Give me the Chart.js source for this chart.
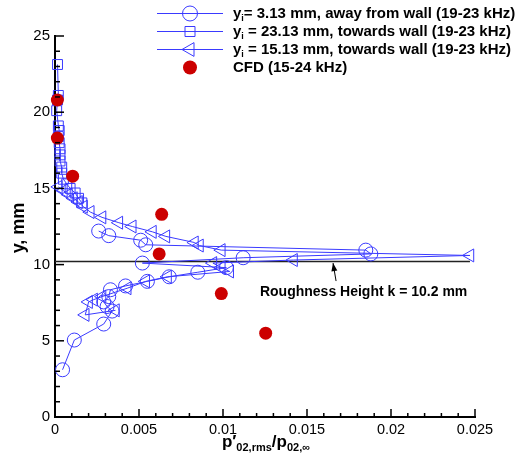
<!DOCTYPE html>
<html><head><meta charset="utf-8">
<script src="https://cdn.jsdelivr.net/npm/chart.js@4.4.1/dist/chart.umd.min.js"></script>
<style>html,body{margin:0;padding:0;background:#fff}#wrap{width:517px;height:462px;position:relative}</style>
</head><body><div id="wrap"><canvas id="c"></canvas></div>
<script>
// ---- data ----
const circlesX = [0.00045,0.00115,0.0029,0.0034,0.0031,0.0029,0.0032,0.0033,0.0042,0.0055,0.0068,0.0085,0.0102,0.0052,0.0112,0.0188,0.0185,0.0054,0.0051,0.0032,0.0026];
const circlesY = [3.1,5.05,6.1,6.95,7.25,7.55,7.9,8.35,8.6,8.9,9.2,9.5,9.8,10.1,10.45,10.7,10.95,11.3,11.6,11.9,12.2];
const squaresX = [0.00015,0.0002,0.00015,0.0001,0.0002,0.00025,0.0002,0.00025,0.0003,0.0003,0.0003,0.0004,0.0004,0.0005,0.0007,0.0009,0.0012,0.0014,0.0016];
const squaresY = [23.13,21.1,20.8,20.1,19.1,18.8,18.4,18.0,17.6,17.2,16.8,16.4,16.0,15.6,15.3,15.0,14.7,14.35,14.05];
const trianglesX = [0.0002,0.0005,0.0008,0.0011,0.0014,0.0017,0.0021,0.0028,0.0038,0.0046,0.0058,0.0066,0.0083,0.0086,0.0099,0.0247,0.0142,0.0094,0.0099,0.0104,0.0067,0.0054,0.0043,0.0028,0.0023,0.0020,0.0018,0.0036];
const trianglesY = [15.1,14.85,14.6,14.35,14.1,13.8,13.45,13.1,12.75,12.5,12.15,11.85,11.45,11.25,10.95,10.6,10.3,10.1,9.8,9.55,9.2,8.9,8.45,7.9,7.7,7.55,6.7,7.0];
const cfdX = [0.00014,0.00014,0.00105,0.00635,0.0062,0.0099,0.01254];
const cfdY = [20.8,18.3,15.8,13.3,10.7,8.1,5.5];
const roughX = [0,0.0247];
const roughY = [10.2,10.2];
const xTickValues = [0,0.005,0.01,0.015,0.02,0.025];
const xTickLabels = ['0','0.005','0.01','0.015','0.02','0.025'];
const yTickValues = [0,5,10,15,20,25];
const yTickLabels = ['0','5','10','15','20','25'];
const legendLabels = [
  ['y','i','= 3.13 mm, away from wall (19-23 kHz)'],
  ['y','i',' = 23.13 mm, towards wall (19-23 kHz)'],
  ['y','i',' = 15.13 mm, towards wall (19-23 kHz)'],
  ['','','CFD (15-24 kHz)']
];
const roughLabel = 'Roughness Height k = 10.2 mm';

// ---- style ----
const FONT = "'Liberation Sans', Arial, Helvetica, sans-serif";
const BLUE = '#3a3aff';
const RED = '#cc0000';
const pts = (xs, ys) => xs.map((x, i) => ({x: x, y: ys[i]}));

function drawMarker(ctx, kind, x, y) {
  ctx.save();
  ctx.lineWidth = 1;
  ctx.strokeStyle = BLUE;
  ctx.beginPath();
  if (kind === 'circle') { ctx.arc(x, y, 7.5, 0, Math.PI*2); ctx.stroke(); }
  else if (kind === 'rect') { ctx.rect(x-5, y-5, 10, 10); ctx.stroke(); }
  else if (kind === 'tri') { ctx.moveTo(x-8, y); ctx.lineTo(x+4, y-6.9); ctx.lineTo(x+4, y+6.9); ctx.closePath(); ctx.stroke(); }
  else { ctx.fillStyle = RED; ctx.arc(x, y, 7, 0, Math.PI*2); ctx.fill(); }
  ctx.restore();
}

const decor = {
  id: 'decor',
  afterDraw(chart) {
    const ctx = chart.ctx, xs = chart.scales.x, ys = chart.scales.y, a = chart.chartArea;
    ctx.save();
    ctx.strokeStyle = '#000';
    ctx.lineWidth = 1.5;
    // inward ticks
    for (let i = 0; i <= 25; i++) {
      const p = ys.getPixelForValue(i);
      const L = (i % 5 === 0) ? 9 : 5;
      ctx.beginPath(); ctx.moveTo(a.left, p); ctx.lineTo(a.left + L, p); ctx.stroke();
    }
    for (let i = 0; i <= 25; i++) {
      const p = xs.getPixelForValue(i * 0.001);
      const L = (i % 5 === 0) ? 8 : 4;
      ctx.beginPath(); ctx.moveTo(p, a.bottom); ctx.lineTo(p, a.bottom - L); ctx.stroke();
    }
    // arrow to roughness line
    const tx = xs.getPixelForValue(0.01673), ty = ys.getPixelForValue(8.92);
    const hx = xs.getPixelForValue(0.01655), hy = ys.getPixelForValue(10.1);
    ctx.lineWidth = 1;
    ctx.beginPath(); ctx.moveTo(tx, ty); ctx.lineTo(hx, hy); ctx.stroke();
    const ang = Math.atan2(hy - ty, hx - tx);
    ctx.fillStyle = '#000';
    ctx.beginPath();
    ctx.moveTo(hx, hy);
    ctx.lineTo(hx - 8*Math.cos(ang) + 3*Math.sin(ang), hy - 8*Math.sin(ang) - 3*Math.cos(ang));
    ctx.lineTo(hx - 8*Math.cos(ang) - 3*Math.sin(ang), hy - 8*Math.sin(ang) + 3*Math.cos(ang));
    ctx.closePath(); ctx.fill();
    // roughness label
    ctx.font = 'bold 14px ' + FONT;
    ctx.textBaseline = 'middle';
    ctx.textAlign = 'left';
    ctx.fillText(roughLabel, xs.getPixelForValue(0.0122), ys.getPixelForValue(8.2));
    // axis titles
    ctx.save();
    ctx.translate(19, 228);
    ctx.rotate(-Math.PI / 2);
    ctx.textAlign = 'center';
    ctx.font = 'bold 18px ' + FONT;
    ctx.fillText('y, mm', 0, 0);
    ctx.restore();
    // x title with subscripts
    const parts = [['p\u2032', 17, 0], ['02,rms', 11, 4], ['/p', 17, 0], ['02,\u221e', 11, 4]];
    let w = 0;
    parts.forEach(p => { ctx.font = 'bold ' + p[1] + 'px ' + FONT; w += ctx.measureText(p[0]).width; });
    let x0 = 266 - w / 2;
    ctx.textBaseline = 'alphabetic';
    parts.forEach(p => { ctx.font = 'bold ' + p[1] + 'px ' + FONT; ctx.fillText(p[0], x0, 447 + p[2]); x0 += ctx.measureText(p[0]).width; });
    // legend
    const kinds = ['circle', 'rect', 'tri', 'dot'];
    const rows = [13.5, 31.5, 49.5, 67.5];
    legendLabels.forEach((lab, i) => {
      const y = rows[i];
      if (i < 3) {
        ctx.strokeStyle = BLUE; ctx.lineWidth = 1;
        ctx.beginPath(); ctx.moveTo(157, y); ctx.lineTo(223, y); ctx.stroke();
      }
      drawMarker(ctx, kinds[i], 190, y);
      ctx.fillStyle = '#000';
      let x = 233;
      ctx.textBaseline = 'middle';
      ctx.font = 'bold 15px ' + FONT;
      if (lab[0]) { ctx.fillText(lab[0], x, y); x += ctx.measureText(lab[0]).width; }
      if (lab[1]) { ctx.font = 'bold 9px ' + FONT; ctx.fillText(lab[1], x, y + 5); x += ctx.measureText(lab[1]).width; }
      ctx.font = 'bold 15px ' + FONT;
      ctx.fillText(lab[2], x, y);
    });
    ctx.restore();
  }
};

const blueSet = (label, xs, ys, style, r, rot) => ({
  label: label, data: pts(xs, ys), showLine: true,
  borderColor: BLUE, borderWidth: 1, backgroundColor: 'rgba(0,0,0,0)',
  pointStyle: style, pointRadius: r, pointRotation: rot || 0,
  pointBorderColor: BLUE, pointBorderWidth: 1, pointBackgroundColor: 'rgba(0,0,0,0)',
  clip: false, tension: 0
});

new Chart(document.getElementById('c'), {
  type: 'scatter',
  data: {
    datasets: [
      {label: 'CFD', data: pts(cfdX, cfdY), showLine: false, pointStyle: 'circle', pointRadius: 6.5,
       pointBackgroundColor: RED, pointBorderColor: RED, pointBorderWidth: 0, clip: false},
      blueSet('circles', circlesX, circlesY, 'circle', 7),
      blueSet('squares', squaresX, squaresY, 'rect', 7),
      blueSet('triangles', trianglesX, trianglesY, 'triangle', 7.5, 270),
      {label: 'rough', data: pts(roughX, roughY), showLine: true, borderColor: '#222', borderWidth: 1.5,
       pointRadius: 0, clip: false}
    ]
  },
  options: {
    responsive: true, maintainAspectRatio: false, animation: false, events: [],
    layout: {padding: {left: 0, top: 36, right: 42, bottom: 0}},
    plugins: {legend: {display: false}, tooltip: {enabled: false}},
    scales: {
      x: {
        type: 'linear', min: 0, max: 0.025,
        afterBuildTicks: s => { s.ticks = xTickValues.map(v => ({value: v})); },
        afterFit: s => { s.height = 45; },
        grid: {display: false, drawTicks: false},
        border: {display: true, color: '#000', width: 2},
        ticks: {color: '#000', padding: 4, font: {family: FONT, size: 14.5},
                callback: (v, i) => xTickLabels[i]}
      },
      y: {
        type: 'linear', min: 0, max: 25,
        afterBuildTicks: s => { s.ticks = yTickValues.map(v => ({value: v})); },
        afterFit: s => { s.width = 55; },
        grid: {display: false, drawTicks: false},
        border: {display: true, color: '#000', width: 2},
        ticks: {color: '#000', padding: 5, font: {family: FONT, size: 15},
                callback: (v, i) => yTickLabels[i]}
      }
    }
  },
  plugins: [decor]
});
</script>
</body></html>
